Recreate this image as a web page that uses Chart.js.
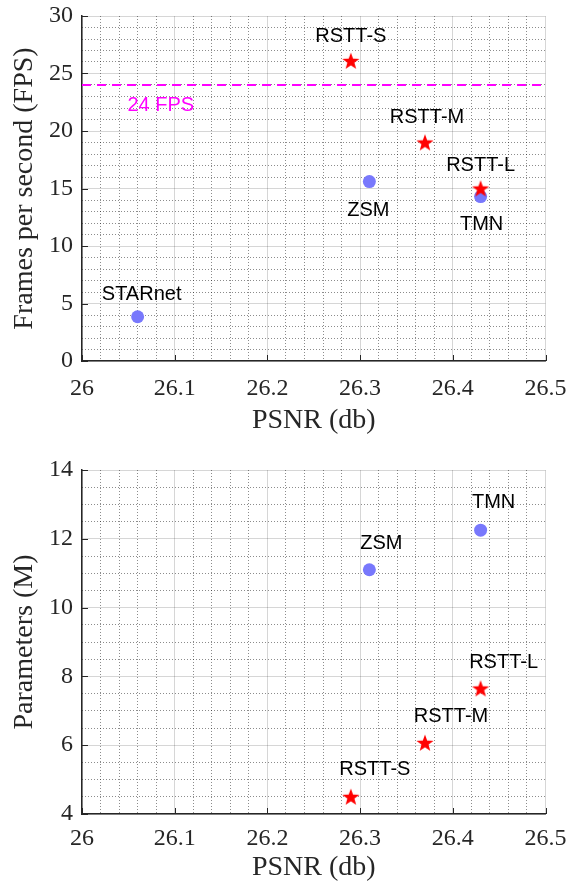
<!DOCTYPE html>
<html><head><meta charset="utf-8">
<script src="https://cdn.jsdelivr.net/npm/chart.js@4/dist/chart.umd.min.js"></script>
<style>
html,body{margin:0;padding:0;background:#fff;}
#wrap{position:relative;width:572px;height:884px;overflow:hidden;}
canvas{position:absolute;left:0;}
#c1{top:0;} #c2{top:440px;}
</style></head><body>
<div id="wrap"><canvas id="c1" width="572" height="440"></canvas><canvas id="c2" width="572" height="444"></canvas></div>
<script>
// ---- data ----
const xTickValues = [26, 26.1, 26.2, 26.3, 26.4, 26.5];
const xTickLabels = ['26', '26.1', '26.2', '26.3', '26.4', '26.5'];
const fpsTickValues = [0, 5, 10, 15, 20, 25, 30];
const fpsTickLabels = ['0', '5', '10', '15', '20', '25', '30'];
const paramTickValues = [4, 6, 8, 10, 12, 14];
const paramTickLabels = ['4', '6', '8', '10', '12', '14'];

const otherNames = ['STARnet', 'ZSM', 'TMN'];
const otherPSNR = [26.06, 26.31, 26.43];
const otherFPS = [3.85, 15.6, 14.3];

const otherParamNames = ['ZSM', 'TMN'];
const otherParamPSNR = [26.31, 26.43];
const otherParams = [11.1, 12.25];

const rsttNames = ['RSTT-S', 'RSTT-M', 'RSTT-L'];
const rsttPSNR = [26.29, 26.37, 26.43];
const rsttFPS = [26.1, 19.0, 15.0];
const rsttParams = [4.5, 6.07, 7.65];

const realTimeFPS = 24;
const realTimeLabel = '24 FPS';
const realTimeLabelPSNR = 26.085;

// ---- styles / layout ----
const SERIF = "'Liberation Serif','Times New Roman',serif";
const SANS = "'Liberation Sans',Arial,Helvetica,sans-serif";
const AXIS = '#262626';
const BLUE = 'rgb(120,120,252)';
const RED = '#ff0000';

const topLabelOffsets = {'RSTT-S':[0,-24],'RSTT-M':[2,-25],'RSTT-L':[0,-23],'ZSM':[-1,29],'TMN':[1,28],'STARnet':[4,-22]};
const botLabelOffsets = {'TMN':[13,-28],'ZSM':[12,-26],'RSTT-L':[23,-26],'RSTT-M':[26,-26],'RSTT-S':[24,-27]};

function makeStar(){
  const c = document.createElement('canvas');
  c.width = 20; c.height = 20;
  const g = c.getContext('2d');
  const R = 9, r = 3.7, cx = 10, cy = 10.7;
  g.beginPath();
  for (let i = 0; i < 10; i++) {
    const a = -Math.PI/2 + i*Math.PI/5;
    const rr = i % 2 ? r : R;
    const px = cx + rr*Math.cos(a), py = cy + rr*Math.sin(a);
    i ? g.lineTo(px, py) : g.moveTo(px, py);
  }
  g.closePath();
  g.fillStyle = RED; g.fill();
  return c;
}
const star = makeStar();

const near = (arr, v) => arr.some(t => Math.abs(t - v) < 1e-6);

const labelPlugin = {
  id: 'pointLabels',
  afterDatasetsDraw(chart) {
    const ctx = chart.ctx;
    const offs = chart.options.plugins.pointLabels.offsets;
    ctx.save();
    ctx.font = '20px ' + SANS;
    ctx.textAlign = 'center';
    ctx.textBaseline = 'middle';
    ctx.fillStyle = '#000';
    chart.data.datasets.forEach((ds, di) => {
      if (!ds.names) return;
      const meta = chart.getDatasetMeta(di);
      meta.data.forEach((el, j) => {
        const o = offs[ds.names[j]] || [0, -24];
        ctx.fillText(ds.names[j], el.x + o[0], el.y + o[1]);
      });
    });
    const rt = chart.options.plugins.pointLabels.realTime;
    if (rt) {
      ctx.fillStyle = '#ff00ff';
      ctx.fillText(rt.text, chart.scales.x.getPixelForValue(rt.x), chart.scales.y.getPixelForValue(rt.y) + 20);
    }
    ctx.restore();
  },
  afterDraw(chart) {
    const ctx = chart.ctx, a = chart.chartArea;
    const xs = chart.scales.x, ys = chart.scales.y;
    ctx.save();
    ctx.strokeStyle = AXIS; ctx.lineWidth = 1;
    ctx.beginPath();
    xs.ticks.forEach(t => {
      const px = Math.round(xs.getPixelForValue(t.value)) + 0.5;
      ctx.moveTo(px, a.bottom); ctx.lineTo(px, a.bottom - 6);
    });
    ys.ticks.forEach(t => {
      const py = Math.round(ys.getPixelForValue(t.value)) + 0.5;
      ctx.moveTo(a.left, py); ctx.lineTo(a.left + 6, py);
    });
    ctx.stroke();
    ctx.restore();
  }
};

function noPadX(s, h) { s.height = h; s.paddingLeft = 0; s.paddingRight = 0; }
function noPadY(s, w) { s.width = w; s.paddingTop = 0; s.paddingBottom = 0; }

function build(canvasId, cfg) {
  const xMin = xTickValues[0], xMax = xTickValues[xTickValues.length - 1];
  const yMin = cfg.yTicks[0], yMax = cfg.yTicks[cfg.yTicks.length - 1];
  const datasets = [
    { type: 'scatter', data: cfg.rsttX.map((x, i) => ({x, y: cfg.rsttY[i]})), names: rsttNames,
      pointStyle: star, pointRadius: 10, order: 0, xAxisID: 'x', yAxisID: 'y' },
    { type: 'scatter', data: cfg.othX.map((x, i) => ({x, y: cfg.othY[i]})), names: cfg.othNames,
      pointStyle: 'circle', pointRadius: 6.5, backgroundColor: BLUE, borderWidth: 0, order: 1, xAxisID: 'x', yAxisID: 'y' }
  ];
  if (cfg.realTime !== undefined) {
    datasets.push({ type: 'line', data: [{x: xMin, y: cfg.realTime}, {x: xMax, y: cfg.realTime}],
      borderColor: '#ff00ff', borderWidth: 2, borderDash: [9, 6], pointRadius: 0, fill: false, order: 2,
      xAxisID: 'x', yAxisID: 'y' });
  }
  return new Chart(document.getElementById(canvasId), {
    data: { datasets },
    options: {
      responsive: false, animation: false, devicePixelRatio: 1,
      layout: { padding: { top: cfg.padTop, right: 26.5, left: 0, bottom: 0 } },
      plugins: {
        legend: { display: false }, tooltip: { enabled: false },
        pointLabels: { offsets: cfg.offsets, realTime: cfg.realTime !== undefined ? {text: realTimeLabel, x: realTimeLabelPSNR, y: cfg.realTime} : null }
      },
      scales: {
        xm: { type: 'linear', position: 'bottom', min: xMin, max: xMax,
          ticks: { display: false, stepSize: 0.02 },
          afterFit: s => noPadX(s, 0),
          grid: { drawTicks: false, lineWidth: 1,
            color: c => near(xTickValues, c.tick.value) ? 'rgba(0,0,0,0)' : 'rgba(0,0,0,0.45)' },
          border: { display: false, dash: [1, 2] } },
        ym: { type: 'linear', position: 'left', min: yMin, max: yMax,
          ticks: { display: false, stepSize: cfg.yMinor },
          afterFit: s => noPadY(s, 0),
          grid: { drawTicks: false, lineWidth: 1,
            color: c => near(cfg.yTicks, c.tick.value) ? 'rgba(0,0,0,0)' : 'rgba(0,0,0,0.45)' },
          border: { display: false, dash: [1, 2] } },
        x: { type: 'linear', position: 'bottom', min: xMin, max: xMax,
          afterBuildTicks: s => { s.ticks = xTickValues.map(v => ({value: v})); },
          afterFit: s => noPadX(s, cfg.xHeight),
          ticks: { autoSkip: false, maxRotation: 0, padding: cfg.xTickPad, color: AXIS,
            font: { family: SERIF, size: 24 },
            callback: (v, i) => xTickLabels[i] },
          grid: { drawTicks: false, color: 'rgba(0,0,0,0.16)', lineWidth: 1 },
          border: { color: AXIS, width: 1.5 },
          title: { display: true, text: 'PSNR (db)', color: AXIS,
            font: { family: SERIF, size: 28, lineHeight: 1 }, padding: { top: 0, bottom: cfg.xTitlePad } } },
        y: { type: 'linear', position: 'left', min: yMin, max: yMax,
          afterBuildTicks: s => { s.ticks = cfg.yTicks.map(v => ({value: v})); },
          afterFit: s => noPadY(s, 82),
          ticks: { autoSkip: false, padding: 9, color: AXIS,
            font: { family: SERIF, size: 24 },
            callback: (v, i) => cfg.yLabels[i] },
          grid: { drawTicks: false, color: 'rgba(0,0,0,0.16)', lineWidth: 1 },
          border: { color: AXIS, width: 1.5 },
          title: { display: true, text: cfg.yTitle, color: AXIS,
            font: { family: SERIF, size: 28, lineHeight: 1 }, padding: { top: 11, bottom: 0 } } }
      }
    },
    plugins: [labelPlugin]
  });
}

build('c1', {
  yTicks: fpsTickValues, yLabels: fpsTickLabels, yMinor: 1, yTitle: 'Frames per second (FPS)',
  rsttX: rsttPSNR, rsttY: rsttFPS, othX: otherPSNR, othY: otherFPS, othNames: otherNames,
  realTime: realTimeFPS, offsets: topLabelOffsets,
  padTop: 16, xHeight: 79, xTickPad: 13, xTitlePad: 5
});
build('c2', {
  yTicks: paramTickValues, yLabels: paramTickLabels, yMinor: 0.5, yTitle: 'Parameters (M)',
  rsttX: rsttPSNR, rsttY: rsttParams, othX: otherParamPSNR, othY: otherParams, othNames: otherParamNames,
  offsets: botLabelOffsets,
  padTop: 30, xHeight: 70, xTickPad: 10, xTitlePad: 2
});
</script>
</body></html>
